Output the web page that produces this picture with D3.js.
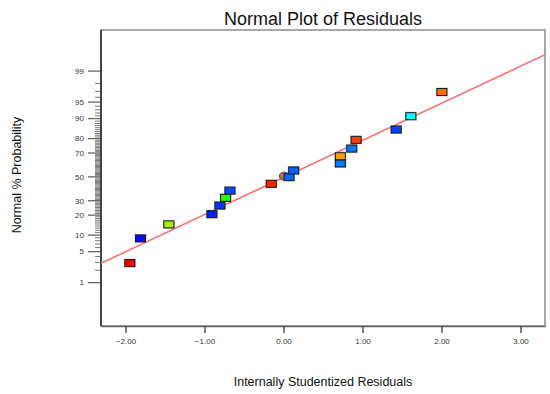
<!DOCTYPE html>
<html>
<head>
<meta charset="utf-8">
<script src="https://cdn.jsdelivr.net/npm/d3@7"></script>
<style>
  body { margin: 0; background: #fff; }
  text { font-family: "Liberation Sans", Arial, sans-serif; }
</style>
</head>
<body>
<div id="wrapper"></div>
<script>
// residuals (x) and normal % probability (y)
const residuals = [-1.945, -1.81, -1.451, -0.906, -0.805, -0.733, -0.678, -0.155, 0.07, 0.129, 0.72, 0.72, 0.864, 0.919, 1.426, 1.612, 2.005]
const probs = [2.9, 8.8, 14.8, 20.6, 26.4, 32.2, 38.1, 43.9, 49.8, 55.6, 61.6, 67.5, 73.3, 79.2, 85.1, 90.9, 96.9]
const colors = ['#ff0000', '#0a0aff', '#a8f000', '#0020ff', '#0036ff', '#20ff00', '#004cff', '#ff2200', '#0066ff', '#0060ff', '#0078ff', '#ff9a00', '#0078ff', '#ff4000', '#0044ff', '#00ffff', '#ff6a00']

// extra round marker sitting behind the centre point
const circleX = [0.01]
const circleP = [50.6]

// fitted reference line, ends at the plot edges
const fitX = [-2.31, 3.31]
const fitP = [2.87, 99.64]

const xTicks = [-2, -1, 0, 1, 2, 3]
const yTicks = [1, 5, 10, 20, 30, 50, 70, 80, 90, 95, 99]

const dimensions = {
    width: 550,
    height: 394,
    margin: { top: 30, right: 5, bottom: 68, left: 101 }
}
dimensions.boundedWidth = dimensions.width - dimensions.margin.left - dimensions.margin.right
dimensions.boundedHeight = dimensions.height - dimensions.margin.top - dimensions.margin.bottom

// inverse normal cdf (Acklam), turns % probability into a z score
function probit (pct) {
    const p = pct / 100
    const a = [-3.969683028665376e+01, 2.209460984245205e+02, -2.759285104469687e+02, 1.383577518672690e+02, -3.066479806614716e+01, 2.506628277459239e+00]
    const b = [-5.447609879822406e+01, 1.615858368580409e+02, -1.556989798598866e+02, 6.680131188771972e+01, -1.328068155288572e+01]
    const c = [-7.784894002430293e-03, -3.223964580411365e-01, -2.400758277161838e+00, -2.549671010243839e+00, 4.374664141464968e+00, 2.938163982698783e+00]
    const d = [7.784695709041462e-03, 3.224671290700398e-01, 2.445134137142996e+00, 3.754408661907416e+00]
    const pl = 0.02425
    let q, r
    if (p < pl) {
        q = Math.sqrt(-2 * Math.log(p))
        return (((((c[0]*q+c[1])*q+c[2])*q+c[3])*q+c[4])*q+c[5]) / ((((d[0]*q+d[1])*q+d[2])*q+d[3])*q+1)
    }
    if (p > 1 - pl) {
        q = Math.sqrt(-2 * Math.log(1 - p))
        return -(((((c[0]*q+c[1])*q+c[2])*q+c[3])*q+c[4])*q+c[5]) / ((((d[0]*q+d[1])*q+d[2])*q+d[3])*q+1)
    }
    q = p - 0.5
    r = q * q
    return (((((a[0]*r+a[1])*r+a[2])*r+a[3])*r+a[4])*r+a[5])*q / (((((b[0]*r+b[1])*r+b[2])*r+b[3])*r+b[4])*r+1)
}

const xScale = d3.scaleLinear()
    .domain([-2.31, 3.31])
    .range([0, dimensions.boundedWidth])

const zScale = d3.scaleLinear()
    .domain([-3.28, 3.23])
    .range([dimensions.boundedHeight, 0])

const yScale = (pct) => zScale(probit(pct))

function drawChart () {
    const svg = d3.select('#wrapper').append('svg')
        .attr('width', dimensions.width)
        .attr('height', dimensions.height)

    const bounds = svg.append('g')
        .attr('transform', `translate(${dimensions.margin.left}, ${dimensions.margin.top})`)

    // frame
    bounds.append('rect')
        .attr('width', dimensions.boundedWidth)
        .attr('height', dimensions.boundedHeight)
        .attr('fill', '#fff')
        .attr('stroke', '#8a8a8a')
        .attr('stroke-width', 1.5)

    // x axis
    const xAxisGenerator = d3.axisBottom(xScale)
        .tickValues(xTicks)
        .tickSize(7)
        .tickSizeOuter(0)
        .tickPadding(5)
        .tickFormat(d3.format('.2f'))

    const xAxis = bounds.append('g')
        .attr('transform', `translate(0, ${dimensions.boundedHeight})`)
        .call(xAxisGenerator)
    xAxis.select('.domain').attr('stroke', '#666').attr('stroke-width', 1.5)
    xAxis.selectAll('.tick line').attr('stroke', '#555').attr('stroke-width', 1.5)
    xAxis.selectAll('.tick text')
        .attr('fill', '#333')
        .style('font-size', '8px')

    // y axis: minor ticks at every whole percent
    const minor = d3.range(1, 100).filter(p => !yTicks.includes(p))
    bounds.append('g')
        .selectAll('line')
        .data(minor)
        .join('line')
        .attr('x1', -6)
        .attr('x2', 0)
        .attr('y1', d => yScale(d))
        .attr('y2', d => yScale(d))
        .attr('stroke', '#777')
        .attr('stroke-width', 1)

    const yAxis = bounds.append('g')
    yAxis.selectAll('line')
        .data(yTicks)
        .join('line')
        .attr('x1', -13)
        .attr('x2', 0)
        .attr('y1', d => yScale(d))
        .attr('y2', d => yScale(d))
        .attr('stroke', '#666')
        .attr('stroke-width', 1.3)
    yAxis.selectAll('text')
        .data(yTicks)
        .join('text')
        .attr('x', -17)
        .attr('y', d => yScale(d))
        .attr('dy', '0.35em')
        .attr('text-anchor', 'end')
        .attr('fill', '#333')
        .style('font-size', '8px')
        .text(d => d)

    bounds.append('line')
        .attr('x1', 0).attr('x2', 0)
        .attr('y1', 0).attr('y2', dimensions.boundedHeight)
        .attr('stroke', '#444')
        .attr('stroke-width', 2)

    // fit line
    const fitData = fitX.map((x, i) => [x, fitP[i]])
    bounds.append('path')
        .attr('d', d3.line()
            .x(d => xScale(d[0]))
            .y(d => yScale(d[1]))(fitData))
        .attr('stroke', '#ff6e6e')
        .attr('stroke-width', 1.5)
        .attr('fill', 'none')

    // round marker
    bounds.selectAll('.circ')
        .data(circleX.map((x, i) => [x, circleP[i]]))
        .join('ellipse')
        .attr('class', 'circ')
        .attr('cx', d => xScale(d[0]))
        .attr('cy', d => yScale(d[1]))
        .attr('rx', 5)
        .attr('ry', 4)
        .attr('fill', '#c06a66')
        .attr('stroke', '#5a3a3a')
        .attr('stroke-width', 1)

    const points = residuals.map((x, i) => ({ x, p: probs[i], c: colors[i] }))

    // soft grey halo under each square
    bounds.append('g')
        .selectAll('rect')
        .data(points)
        .join('rect')
        .attr('x', d => xScale(d.x) - 6)
        .attr('y', d => yScale(d.p) - 4.5)
        .attr('width', 12)
        .attr('height', 9)
        .attr('fill', '#999')
        .attr('opacity', 0.55)

    bounds.append('g')
        .selectAll('rect')
        .data(points)
        .join('rect')
        .attr('x', d => xScale(d.x) - 5)
        .attr('y', d => yScale(d.p) - 3.5)
        .attr('width', 10)
        .attr('height', 7)
        .attr('fill', d => d.c)
        .attr('stroke', '#1a1a1a')
        .attr('stroke-width', 1)

    // titles
    svg.append('text')
        .attr('x', dimensions.margin.left + dimensions.boundedWidth / 2)
        .attr('y', 25)
        .attr('text-anchor', 'middle')
        .style('font-size', '18px')
        .attr('fill', '#111')
        .text('Normal Plot of Residuals')

    svg.append('text')
        .attr('x', dimensions.margin.left + dimensions.boundedWidth / 2)
        .attr('y', 386)
        .attr('text-anchor', 'middle')
        .style('font-size', '12.5px')
        .attr('fill', '#111')
        .text('Internally Studentized Residuals')

    svg.append('text')
        .attr('transform', 'translate(21, 175) rotate(-90)')
        .attr('text-anchor', 'middle')
        .style('font-size', '12.5px')
        .attr('fill', '#111')
        .text('Normal % Probability')
}

drawChart()
</script>
</body>
</html>
